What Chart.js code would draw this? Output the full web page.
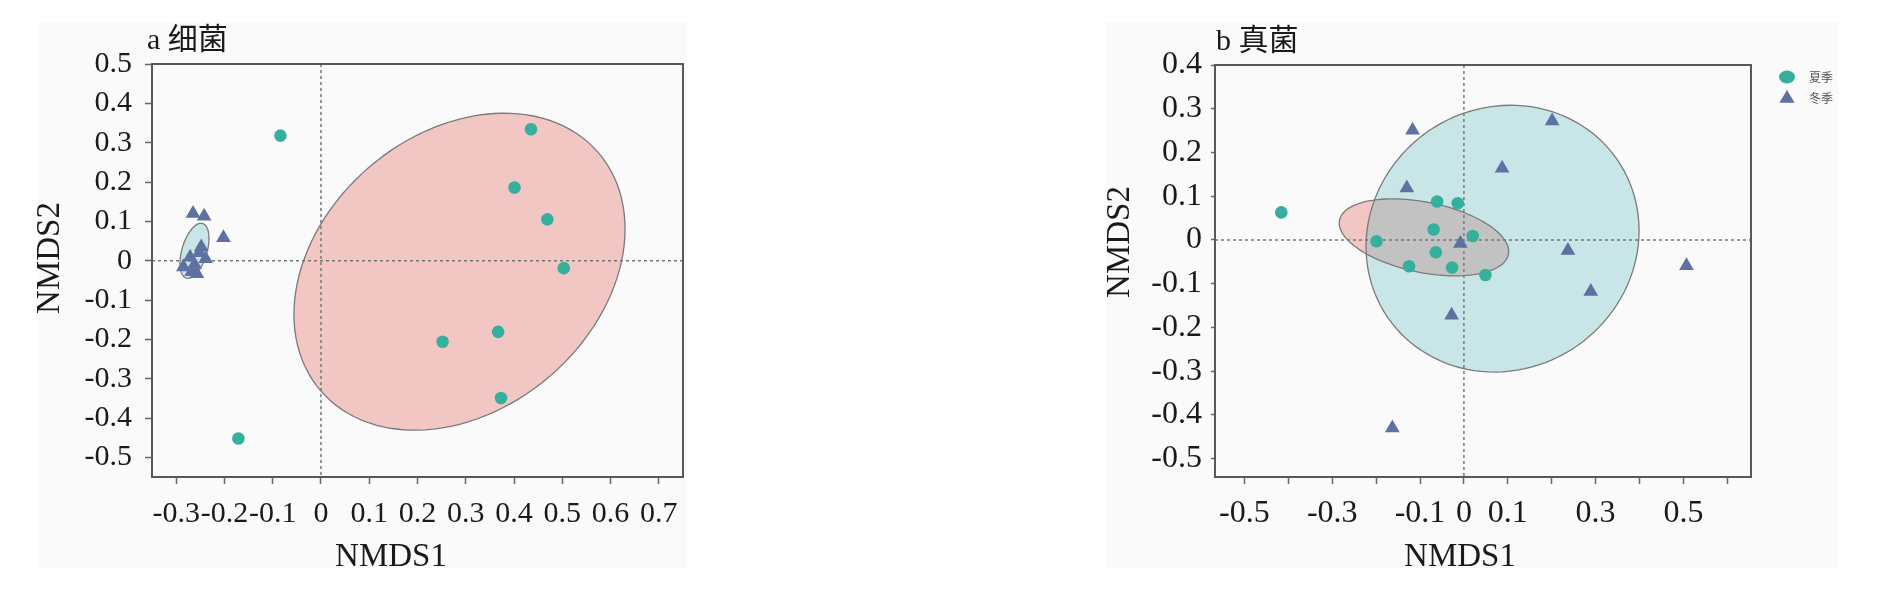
<!DOCTYPE html>
<html>
<head>
<meta charset="utf-8">
<script src="https://cdn.jsdelivr.net/npm/chart.js@4.4.0/dist/chart.umd.min.js"></script>
<style>
    body { margin: 0; background: #fff; width: 1877px; height: 591px; position: relative; overflow: hidden; }
    .box { position: absolute; background: #fafafa; }
    canvas { position: absolute; top: 0; }
</style>
</head>
<body>
<div class="box" style="left:38px;top:22px;width:649px;height:546px"></div>
<div class="box" style="left:1106px;top:22px;width:732px;height:546px"></div>
<canvas id="chartA" width="700" height="591" style="left:0"></canvas>
<canvas id="chartB" width="797" height="591" style="left:1080px"></canvas>
<script>
// a 细菌
const bacSummerX = [-0.084, 0.435, 0.401, 0.469, 0.503, 0.252, 0.367, 0.373, -0.171];
const bacSummerY = [0.318, 0.334, 0.186, 0.105, -0.019, -0.206, -0.181, -0.349, -0.452];
const bacWinterX = [-0.265, -0.242, -0.202, -0.248, -0.271, -0.285, -0.257, -0.239, -0.262, -0.268, -0.252];
const bacWinterY = [0.120, 0.113, 0.058, 0.035, 0.009, -0.016, -0.033, 0.005, -0.010, -0.028, 0.020];

// b 真菌
const funSummerX = [-0.416, -0.061, -0.014, -0.069, -0.199, 0.020, -0.064, -0.125, -0.027, 0.049];
const funSummerY = [0.063, 0.088, 0.084, 0.024, -0.003, 0.009, -0.028, -0.060, -0.063, -0.080];
const funWinterX = [-0.117, 0.201, 0.087, -0.130, -0.008, 0.237, 0.507, 0.289, -0.028, -0.163];
const funWinterY = [0.251, 0.272, 0.164, 0.119, -0.008, -0.024, -0.059, -0.118, -0.172, -0.430];

// ellipses: centre x, centre y, half width, half height, correlation
const bacSummerEllipse = [0.287, -0.028, 0.343, 0.403, 0.27];
const bacWinterEllipse = [-0.262, 0.025, 0.030, 0.070, 0.45];
const funSummerEllipse = [-0.091, 0.006, 0.193, 0.088, -0.37];
const funWinterEllipse = [0.088, 0.003, 0.311, 0.305, 0.06];

// ticks
const xTicksA = [-0.3, -0.2, -0.1, 0, 0.1, 0.2, 0.3, 0.4, 0.5, 0.6, 0.7];
const yTicksA = [-0.5, -0.4, -0.3, -0.2, -0.1, 0, 0.1, 0.2, 0.3, 0.4, 0.5];
const xTicksB = [-0.5, -0.4, -0.3, -0.2, -0.1, 0, 0.1, 0.2, 0.3, 0.4, 0.5, 0.6];
const xLabelsB = [-0.5, -0.3, -0.1, 0, 0.1, 0.3, 0.5];
const yTicksB = [-0.5, -0.4, -0.3, -0.2, -0.1, 0, 0.1, 0.2, 0.3, 0.4];

const seriesNames = ['夏季', '冬季'];

const teal = '#35b09d';
const slate = '#5f71a1';
const pinkFill = 'rgba(228,112,102,0.38)';
const blueFill = 'rgba(100,188,198,0.33)';
const serif = '"Liberation Serif", "Noto Sans CJK SC", serif';

const toPoints = (xs, ys) => xs.map((x, i) => ({ x: x, y: ys[i] }));

function ellipsePath(ctx, xs, ys, p) {
    const [cx, cy, hx, hy, rho] = p;
    const k = Math.sqrt(1 - rho * rho);
    ctx.beginPath();
    for (let i = 0; i <= 120; i++) {
        const t = i / 120 * Math.PI * 2;
        const px = xs.getPixelForValue(cx + hx * Math.cos(t));
        const py = ys.getPixelForValue(cy + hy * (rho * Math.cos(t) + k * Math.sin(t)));
        if (i === 0) ctx.moveTo(px, py); else ctx.lineTo(px, py);
    }
    ctx.closePath();
}

function drawTriangle(ctx, x, y, r) {
    ctx.beginPath();
    ctx.moveTo(x, y - r);
    ctx.lineTo(x + r * 0.95, y + r * 0.6);
    ctx.lineTo(x - r * 0.95, y + r * 0.6);
    ctx.closePath();
    ctx.fill();
}

// ellipses, zero lines, frame, titles, legend
const panelDecor = {
    id: 'panelDecor',
    beforeDatasetsDraw(chart, args, opts) {
        const { ctx, chartArea: a, scales: { x, y } } = chart;
        ctx.save();
        ctx.beginPath();
        ctx.rect(a.left, a.top, a.width, a.height);
        ctx.clip();
        opts.ellipses.forEach(e => {
            ellipsePath(ctx, x, y, e.p);
            ctx.fillStyle = e.fill;
            ctx.fill();
        });
        opts.ellipses.forEach(e => {
            ellipsePath(ctx, x, y, e.p);
            ctx.strokeStyle = '#7a7a7a';
            ctx.lineWidth = 1.3;
            ctx.stroke();
        });
        ctx.setLineDash([3, 3]);
        ctx.strokeStyle = '#777';
        ctx.lineWidth = 1.5;
        ctx.beginPath();
        ctx.moveTo(x.getPixelForValue(0), a.top);
        ctx.lineTo(x.getPixelForValue(0), a.bottom);
        ctx.moveTo(a.left, y.getPixelForValue(0));
        ctx.lineTo(a.right, y.getPixelForValue(0));
        ctx.stroke();
        ctx.restore();

        ctx.save();
        ctx.strokeStyle = '#585858';
        ctx.lineWidth = 2;
        ctx.strokeRect(a.left, a.top, a.width, a.height);
        ctx.restore();
    },
    afterDraw(chart, args, opts) {
        const ctx = chart.ctx;
        ctx.save();
        ctx.fillStyle = '#1a1a1a';
        ctx.font = '30px ' + serif;
        ctx.textAlign = 'left';
        ctx.textBaseline = 'alphabetic';
        ctx.fillText(opts.title, opts.titlePos[0], opts.titlePos[1]);

        ctx.font = '33px ' + serif;
        ctx.textAlign = 'center';
        ctx.textBaseline = 'middle';
        ctx.fillText('NMDS1', opts.xTitlePos[0], opts.xTitlePos[1]);
        ctx.translate(opts.yTitlePos[0], opts.yTitlePos[1]);
        ctx.rotate(-Math.PI / 2);
        ctx.fillText('NMDS2', 0, 0);
        ctx.restore();

        if (opts.legend) {
            const [lx, ly] = opts.legend;
            ctx.save();
            ctx.fillStyle = teal;
            ctx.beginPath();
            ctx.ellipse(lx, ly, 8, 6.5, 0, 0, Math.PI * 2);
            ctx.fill();
            ctx.fillStyle = slate;
            drawTriangle(ctx, lx, ly + 21, 8);
            ctx.fillStyle = '#555';
            ctx.font = '12px "Noto Sans CJK SC"';
            ctx.textAlign = 'left';
            ctx.textBaseline = 'middle';
            ctx.fillText(seriesNames[0], lx + 22, ly);
            ctx.fillText(seriesNames[1], lx + 22, ly + 21);
            ctx.restore();
        }
    }
};

function scatterSets(sx, sy, wx, wy) {
    return [
        {
            label: seriesNames[0],
            data: toPoints(sx, sy),
            pointStyle: 'circle',
            pointRadius: 6.3,
            backgroundColor: teal,
            borderWidth: 0
        },
        {
            label: seriesNames[1],
            data: toPoints(wx, wy),
            pointStyle: 'triangle',
            pointRadius: 8.5,
            backgroundColor: slate,
            borderWidth: 0
        }
    ];
}

function makeAxis(cfg) {
    return {
        type: 'linear',
        min: cfg.min,
        max: cfg.max,
        afterBuildTicks: s => { s.ticks = cfg.ticks.map(v => ({ value: v })); },
        afterFit: s => { if (cfg.width) s.width = cfg.width; if (cfg.height) s.height = cfg.height; },
        grid: { drawOnChartArea: false, drawTicks: true, tickLength: cfg.tl, tickColor: '#666', tickWidth: 1.5 },
        border: { display: false },
        ticks: {
            autoSkip: false,
            maxRotation: 0,
            padding: cfg.pad,
            color: '#1a1a1a',
            font: { family: serif, size: cfg.fs },
            callback: v => {
                if (cfg.labels && !cfg.labels.some(l => Math.abs(l - v) < 1e-9)) return '';
                return String(Math.round(v * 10) / 10);
            }
        }
    };
}

// Panel a
new Chart(document.getElementById('chartA'), {
    type: 'scatter',
    data: { datasets: scatterSets(bacSummerX, bacSummerY, bacWinterX, bacWinterY) },
    options: {
        responsive: false,
        animation: false,
        layout: { padding: { top: 64, right: 17, bottom: 0, left: 0 } },
        scales: {
            x: makeAxis({ min: -0.35, max: 0.75, ticks: xTicksA, height: 114, tl: 7, pad: 12, fs: 30 }),
            y: makeAxis({ min: -0.55, max: 0.5, ticks: yTicksA, width: 152, tl: 7, pad: 13, fs: 30 })
        },
        plugins: {
            legend: { display: false },
            tooltip: { enabled: false },
            panelDecor: {
                ellipses: [
                    { p: bacSummerEllipse, fill: pinkFill },
                    { p: bacWinterEllipse, fill: blueFill }
                ],
                title: 'a 细菌',
                titlePos: [147, 49],
                xTitlePos: [391, 557],
                yTitlePos: [50, 258]
            }
        }
    },
    plugins: [panelDecor]
});

// Panel b
new Chart(document.getElementById('chartB'), {
    type: 'scatter',
    data: { datasets: scatterSets(funSummerX, funSummerY, funWinterX, funWinterY) },
    options: {
        responsive: false,
        animation: false,
        layout: { padding: { top: 65, right: 126, bottom: 0, left: 0 } },
        scales: {
            x: makeAxis({ min: -0.567, max: 0.654, ticks: xTicksB, labels: xLabelsB, height: 114, tl: 7, pad: 10, fs: 32 }),
            y: makeAxis({ min: -0.542, max: 0.4, ticks: yTicksB, width: 135, tl: 4, pad: 9, fs: 32 })
        },
        plugins: {
            legend: { display: false },
            tooltip: { enabled: false },
            panelDecor: {
                ellipses: [
                    { p: funSummerEllipse, fill: pinkFill },
                    { p: funWinterEllipse, fill: blueFill }
                ],
                title: 'b 真菌',
                titlePos: [136, 50],
                xTitlePos: [380, 557],
                yTitlePos: [40, 242],
                legend: [707, 77]
            }
        }
    },
    plugins: [panelDecor]
});
</script>
</body>
</html>
